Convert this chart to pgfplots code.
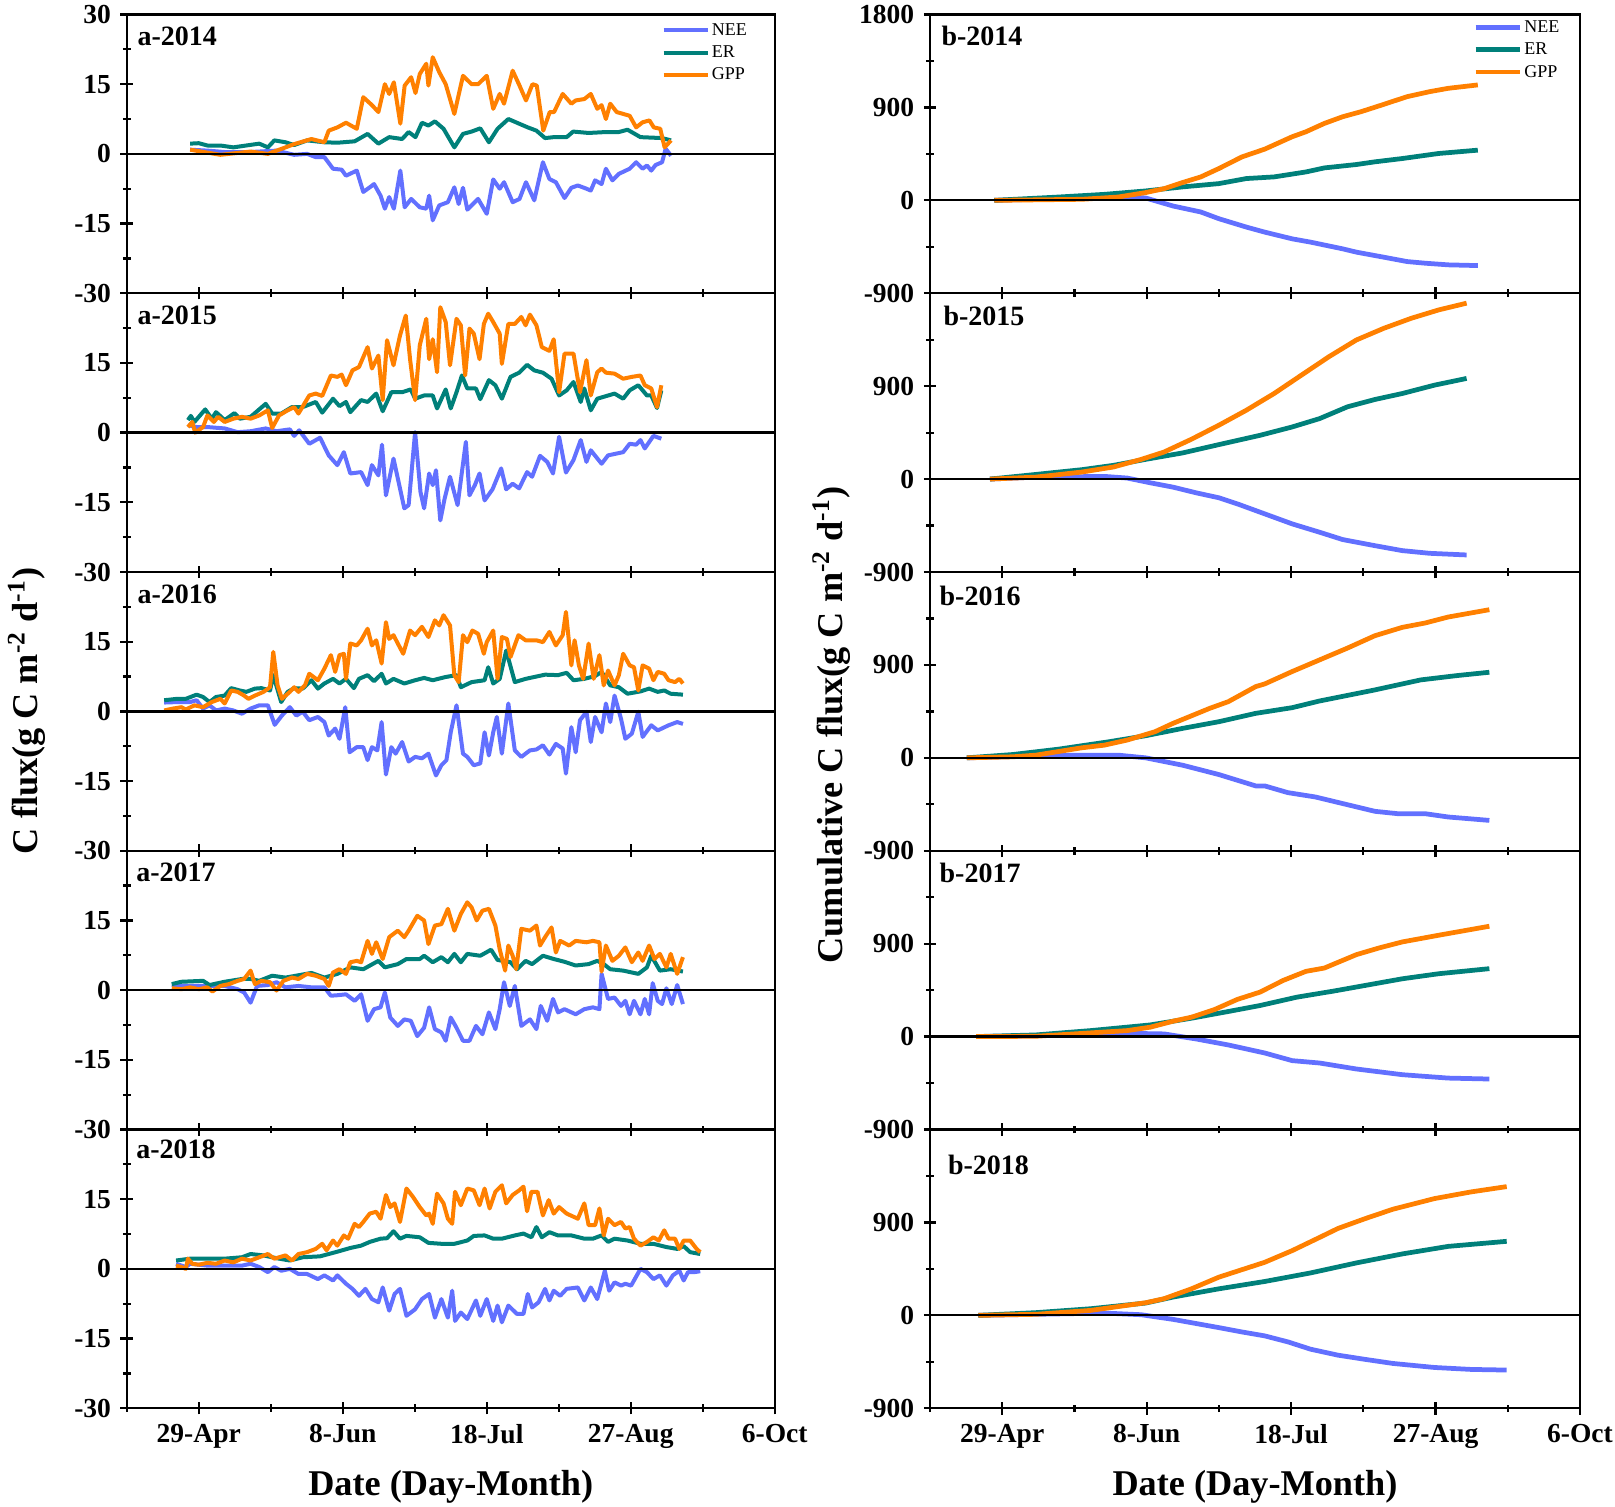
\documentclass[border=0pt]{standalone}
\usepackage{pgfplots}
\pgfplotsset{compat=1.18}
\usepackage{fontspec}
\setmainfont{Liberation Serif}
\definecolor{neec}{RGB}{98,112,255}
\definecolor{erc}{RGB}{0,128,122}
\definecolor{gppc}{RGB}{255,128,0}
\newcommand\tickfont{\fontsize{11}{13}\selectfont\bfseries}
\newcommand\panelfont{\fontsize{11.2}{13}\selectfont\bfseries}
\newcommand\labfont{\fontsize{14.5}{17}\selectfont\bfseries}
\newcommand\legfont{\fontsize{7.2}{8.5}\selectfont}
\tikzset{plabel/.style={anchor=west, font=\panelfont, inner sep=0pt}}
\pgfplotsset{
  basepanel/.style={
    scale only axis, height=111.5pt, xmin=99, xmax=279,
    xtick={119,159,199,239,279}, minor xtick={99,139,179,219,259},
    xticklabels={}, xtick pos=left, ytick pos=left,
    tick align=center, major tick length=5pt, minor tick length=3pt,
    axis line style={line width=0.9pt},
    tick style={black, line width=0.9pt},
    xticklabel style={font=\tickfont, yshift=-0.5pt},
    yticklabel style={font=\tickfont, xshift=-0.3pt},
    legend style={draw=none, fill=none, inner sep=0pt, font=\legfont,
      nodes={inner xsep=0.8pt, inner ysep=1.25pt, text height=5.2pt, text depth=1.2pt},
      row sep=0pt},
    legend cell align=left,
    legend image code/.code={\draw[##1] (0pt,0pt) -- (17.7pt,0pt);},
  },
  leftpanel/.style={basepanel, width=259.2pt, ymin=-30, ymax=30,
    ytick={-30,-15,0,15}, yticklabels={-30,-15,0,15},
    minor ytick={-22.5,-7.5,7.5,22.5},
    nee/.style={neec, line width=1.6pt, line join=round},
    er/.style={erc, line width=1.6pt, line join=round},
    gpp/.style={gppc, line width=1.6pt, line join=round}},
  lefttop/.style={leftpanel, ytick={-30,-15,0,15,30}, yticklabels={-30,-15,0,15,30}},
  rightpanel/.style={basepanel, width=260pt, ymin=-900, ymax=1800,
    ytick={-900,0,900}, yticklabels={-900,0,900},
    minor ytick={-450,450,1350},
    nee/.style={neec, line width=1.9pt, line join=round},
    er/.style={erc, line width=1.9pt, line join=round},
    gpp/.style={gppc, line width=1.9pt, line join=round}},
  righttop/.style={rightpanel, ytick={-900,0,900,1800}, yticklabels={-900,0,900,1800}},
  bottompanel/.style={xticklabels={29-Apr,8-Jun,18-Jul,27-Aug,6-Oct},
    xlabel={Date (Day-Month)},
    xlabel style={font=\labfont, at={(axis description cs:0.5,-0.282)}, anchor=center}},
  zero/.style={black, line width=0.9pt, forget plot},
}
\begin{document}
\begin{tikzpicture}
\useasboundingbox (0pt,0pt) rectangle (646pt,-602.8pt);
% ---------------- a-2014
\begin{axis}[lefttop, at={(50.7pt,-5.8pt)}, anchor=north west,
  legend entries={NEE,ER,GPP}, legend style={at={(0.961,0.985)}, anchor=north east}]
\addplot[nee] coordinates {(116.6,0.9)(121.4,0.7)(126.2,0.4)(133.4,0.4)(140.6,0.7)(145.5,-0.2)(149.1,0)(151.5,-0.7)(153.9,-0.7)(156.3,-3.2)(158.7,-3.4)(159.9,-4.7)(162.9,-3.6)(164.7,-8.2)(166.5,-7.2)(167.7,-6.5)(169.5,-9.0)(170.7,-11.8)(171.9,-9.3)(173.2,-11.8)(175.0,-3.6)(176.2,-11.5)(178.0,-9.7)(180.4,-11.5)(182.2,-11.8)(183.0,-9.0)(184.0,-14.3)(185.8,-11.1)(188.2,-10.4)(190.0,-7.2)(191.2,-10.8)(192.4,-7.3)(193.6,-12.0)(196.6,-9.7)(199.0,-12.9)(200.8,-5.5)(202.6,-7.5)(203.8,-6.1)(206.2,-10.4)(208.1,-9.7)(209.9,-6.1)(212.2,-10.0)(214.6,-1.8)(216.4,-5.4)(218.2,-6.1)(220.6,-9.5)(222.5,-7.3)(224.3,-6.8)(226.7,-7.5)(227.9,-7.9)(229.1,-5.7)(230.9,-6.5)(232.1,-3.2)(233.9,-5.7)(235.7,-4.3)(238.7,-3.2)(240.5,-1.8)(242.3,-3.2)(243.5,-2.5)(244.7,-3.6)(245.9,-2.4)(247.7,-1.8)(248.7,1.1)(250.2,-0.4)};
\addplot[er] coordinates {(116.6,2.2)(119.0,2.3)(121.4,1.8)(125.0,1.8)(128.6,1.4)(132.2,1.8)(135.8,2.2)(138.2,1.4)(140.0,2.9)(143.1,2.5)(145.5,1.9)(149.1,2.9)(153.9,2.5)(157.5,2.4)(162.3,2.7)(165.9,4.3)(168.9,2.2)(171.9,3.6)(175.5,3.2)(177.3,4.7)(179.2,3.6)(181.0,6.7)(182.8,6.1)(184.6,7.0)(187.0,5.4)(190.0,1.4)(192.4,4.3)(194.8,4.8)(197.2,5.5)(199.6,2.5)(202.0,5.4)(205.0,7.5)(208.0,6.5)(210.4,5.7)(212.8,5.0)(215.2,3.4)(217.6,3.6)(221.2,3.6)(223.0,4.8)(227.3,4.5)(232.1,4.7)(235.7,4.7)(238.1,5.2)(241.7,3.6)(247.7,3.4)(250.2,2.9)};
\addplot[gpp] coordinates {(116.6,0.9)(125.0,-0.2)(133.4,0.5)(138.2,0)(143.1,1.4)(145.5,2.1)(150.3,3.2)(153.9,2.5)(155.1,5.0)(157.5,5.7)(159.9,6.7)(162.9,5.4)(164.7,12.2)(167.1,10.5)(168.9,9.0)(170.7,15.0)(171.9,12.9)(173.2,15.4)(175.0,6.5)(176.2,14.7)(178.0,16.5)(179.2,13.1)(180.4,17.2)(182.2,19.4)(182.8,14.7)(184.0,20.8)(185.8,17.6)(187.6,15.0)(190.0,8.6)(192.4,16.8)(194.8,15.0)(196.6,15.0)(199.0,16.8)(200.8,9.7)(202.6,12.9)(203.8,10.8)(206.2,17.9)(208.1,14.7)(209.9,11.5)(211.7,15.0)(212.9,14.7)(214.7,5.0)(216.5,9.0)(217.7,9.0)(220.1,12.9)(222.5,10.8)(223.7,11.5)(226.1,11.8)(227.9,12.9)(229.7,9.7)(230.9,10.5)(232.1,7.5)(233.3,10.8)(235.1,9.0)(238.7,8.2)(240.5,5.7)(242.3,6.8)(244.2,7.2)(245.4,5.7)(247.2,5.4)(248.4,1.4)(250.2,2.9)};
\addplot[zero] coordinates {(99,0)(279,0)};
\node[plabel] at (rel axis cs:0.016,0.922) {a-2014};
\end{axis}
% ---------------- a-2015
\begin{axis}[leftpanel, at={(50.7pt,-117.3pt)}, anchor=north west]
\addplot[nee] coordinates {(116.0,1.6)(118.4,1.2)(121.4,1.2)(126.2,0.9)(129.8,0.1)(133.4,0.3)(137.6,0.9)(140.6,0.3)(144.3,0.7)(145.5,-0.7)(146.9,0.5)(149.7,-2.4)(152.7,-1.1)(155.1,-4.9)(157.5,-7.0)(159.3,-4.2)(161.1,-8.8)(164.1,-8.5)(165.9,-11.3)(167.1,-7.0)(168.9,-9.2)(169.9,-2.6)(171.0,-13.5)(173.1,-5.6)(176.1,-16.3)(177.3,-15.6)(179.1,0.1)(180.6,-12.8)(181.6,-16.3)(183.0,-8.8)(184.0,-11.3)(184.9,-8.1)(186.1,-18.9)(187.3,-14.2)(188.8,-9.5)(190.9,-15.6)(193.2,-2.0)(194.2,-13.5)(195.7,-11.3)(197.0,-8.8)(198.4,-14.6)(200.6,-12.2)(203.0,-7.7)(204.4,-12.2)(206.2,-11.0)(208.0,-12.0)(210.2,-8.5)(211.6,-9.5)(213.8,-5.0)(215.8,-6.3)(217.4,-8.8)(219.1,-0.9)(221.0,-8.6)(223.1,-5.9)(225.1,-1.6)(226.7,-6.3)(227.9,-3.8)(230.9,-6.7)(232.7,-4.9)(236.9,-4.2)(238.7,-2.4)(240.5,-2.6)(241.7,-1.6)(242.9,-3.4)(245.3,-0.7)(247.5,-1.3)};
\addplot[er] coordinates {(116.0,2.7)(116.8,3.6)(117.8,2.3)(120.8,5.0)(122.6,3.0)(123.8,4.4)(126.2,2.7)(128.9,4.2)(130.4,3.0)(133.4,3.4)(135.2,4.6)(137.6,6.2)(139.4,4.1)(141.9,4.1)(144.9,5.5)(147.9,5.5)(151.5,6.6)(153.3,4.3)(156.3,7.3)(158.1,5.7)(159.9,6.6)(161.1,4.4)(164.1,7.0)(165.9,6.6)(168.3,8.4)(170.1,4.6)(172.5,8.7)(175.5,8.7)(177.9,9.3)(179.1,7.3)(181.6,8.0)(184.0,8.0)(185.2,5.2)(187.6,9.3)(189.0,5.2)(190.6,8.7)(192.1,12.3)(193.6,9.5)(196.0,9.5)(197.2,7.2)(199.6,11.3)(201.4,10.2)(203.2,7.3)(205.6,12.0)(208.0,12.9)(210.2,14.6)(212.2,13.4)(214.6,12.9)(217.0,11.6)(219.1,8.0)(221.2,9.1)(223.1,10.9)(225.1,6.6)(226.1,9.5)(227.9,4.8)(229.7,7.3)(234.5,8.4)(236.9,7.3)(238.7,9.1)(241.1,10.2)(243.5,8.0)(244.7,8.0)(246.3,5.3)(247.5,9.1)};
\addplot[gpp] coordinates {(116.0,1.2)(117.2,2.3)(118.0,0)(120.2,1.2)(121.4,3.7)(123.2,2.3)(124.4,3.4)(126.2,2.3)(128.6,3.0)(131.0,3.4)(133.4,3.0)(135.8,3.7)(138.2,4.8)(139.4,1.0)(141.3,3.7)(143.7,4.8)(145.5,5.5)(146.7,4.1)(149.7,8.0)(151.5,8.4)(153.3,7.9)(155.7,12.3)(157.5,12.0)(158.7,12.5)(159.9,10.2)(161.7,13.4)(163.5,14.1)(165.9,18.4)(167.1,13.8)(168.9,16.6)(170.1,7.0)(171.3,19.9)(173.1,14.5)(174.9,20.9)(176.5,25.2)(177.7,15.8)(179.1,7.0)(180.4,18.8)(182.2,24.5)(183.0,15.8)(184.0,20.1)(185.2,13.0)(186.1,27.0)(187.6,23.8)(188.8,14.5)(190.6,24.5)(191.8,23.1)(193.0,12.3)(194.2,22.4)(195.4,21.3)(197.0,15.8)(198.2,23.4)(199.4,25.6)(200.8,23.8)(202.6,21.3)(203.2,14.8)(205.0,23.4)(206.8,23.4)(208.6,24.9)(209.8,23.1)(211.0,25.4)(212.8,23.1)(214.3,18.4)(216.4,17.6)(217.6,20.1)(219.1,8.7)(220.6,17.0)(223.1,17.0)(224.9,8.7)(226.7,15.6)(227.9,8.0)(229.7,13.0)(230.9,13.8)(232.1,12.9)(234.5,12.7)(236.9,11.6)(239.3,12.0)(241.7,12.3)(242.9,10.2)(244.7,9.5)(246.3,5.5)(247.5,10.2)};
\addplot[zero] coordinates {(99,0)(279,0)};
\node[plabel] at (rel axis cs:0.016,0.922) {a-2015};
\end{axis}
% ---------------- a-2016
\begin{axis}[leftpanel, at={(50.7pt,-228.8pt)}, anchor=north west]
\addplot[nee] coordinates {(109.4,1.9)(113.0,2.0)(116.6,2.0)(118.4,2.4)(120.2,0.6)(122.0,1.3)(123.8,0.2)(126.2,0.6)(128.6,0.2)(131.0,-0.5)(133.4,0.6)(135.8,1.3)(138.2,1.3)(140.1,-2.9)(142.1,-0.9)(144.3,0.9)(146.1,-0.9)(147.9,-0.1)(149.7,-1.9)(152.1,-1.2)(153.9,-2.3)(155.1,-5.2)(156.9,-3.7)(158.1,-5.9)(159.7,0.9)(160.9,-8.8)(162.9,-7.7)(164.7,-7.7)(165.9,-10.5)(167.1,-7.7)(168.6,-8.4)(169.8,-2.3)(171.0,-13.6)(172.5,-7.7)(173.7,-9.1)(175.5,-6.6)(177.3,-10.8)(179.1,-9.8)(181.0,-10.1)(182.8,-9.1)(184.9,-13.8)(186.4,-11.6)(187.8,-10.5)(189.0,-4.5)(190.6,1.3)(192.4,-9.1)(193.6,-9.8)(195.4,-11.6)(197.2,-11.2)(198.4,-4.5)(199.6,-9.5)(200.8,-4.5)(201.8,-1.2)(203.2,-9.1)(205.0,1.7)(206.8,-8.4)(208.6,-9.8)(211.0,-8.4)(212.8,-8.2)(214.6,-7.3)(216.4,-9.3)(218.2,-7.0)(220.1,-8.0)(221.0,-13.4)(222.5,-3.4)(223.7,-8.8)(224.9,-1.9)(226.7,-0.1)(227.9,-6.6)(229.1,-1.2)(230.9,-4.5)(232.1,1.7)(233.3,-2.3)(234.5,3.4)(236.3,-1.6)(237.5,-5.9)(239.3,-4.8)(241.1,-0.1)(242.3,-5.5)(244.7,-3.0)(246.5,-4.1)(249.5,-3.0)(251.9,-2.3)(253.5,-2.7)};
\addplot[er] coordinates {(109.4,2.4)(113.0,2.7)(115.4,2.7)(118.4,3.6)(120.2,3.1)(122.0,2.0)(123.8,3.1)(126.2,3.4)(128.0,5.0)(130.4,4.5)(132.2,4.2)(134.6,4.9)(136.4,5.0)(138.8,4.5)(139.7,7.8)(141.9,2.0)(143.7,4.2)(145.5,5.0)(147.9,4.9)(150.3,6.7)(152.1,4.9)(153.9,6.0)(156.3,7.0)(158.1,6.0)(159.9,7.0)(162.1,5.0)(163.5,7.0)(165.9,7.8)(167.7,6.5)(169.8,8.1)(171.0,6.0)(173.1,7.0)(176.1,6.0)(179.1,6.7)(181.6,7.2)(184.0,6.7)(187.6,7.4)(190.6,7.8)(191.8,5.2)(194.8,6.3)(198.4,6.7)(199.4,9.5)(200.8,6.0)(202.6,7.0)(204.4,13.1)(206.8,6.3)(209.8,7.0)(215.2,7.9)(218.8,7.8)(221.2,8.3)(223.1,6.7)(226.1,7.0)(229.1,7.6)(230.9,8.5)(233.3,5.6)(235.7,5.2)(238.1,3.8)(241.7,4.3)(244.1,4.9)(246.5,4.2)(248.3,4.5)(250.1,3.8)(253.5,3.6)};
\addplot[gpp] coordinates {(109.4,0.2)(111.8,0.6)(114.2,0.9)(115.4,0.4)(117.8,1.3)(120.2,0.9)(122.6,2.0)(125.0,2.7)(126.2,1.7)(128.0,4.5)(129.8,4.2)(131.6,3.4)(132.8,2.7)(134.6,3.4)(137.0,4.2)(138.8,5.2)(139.7,12.8)(140.9,5.6)(142.1,2.7)(144.3,4.2)(145.5,5.2)(146.7,4.2)(148.5,5.6)(149.7,8.1)(152.1,6.7)(153.9,9.2)(155.7,12.1)(156.9,8.5)(158.1,12.1)(159.3,12.4)(159.9,7.0)(161.1,14.6)(162.9,14.2)(164.1,15.3)(165.9,17.8)(167.1,14.2)(168.3,15.3)(169.8,10.3)(171.0,19.2)(171.9,15.6)(173.1,16.4)(174.3,14.6)(175.8,12.4)(177.7,17.4)(179.1,16.4)(181.0,18.2)(182.8,16.0)(184.6,19.6)(185.8,18.5)(187.0,20.7)(188.8,18.5)(190.0,7.8)(191.2,6.3)(192.4,16.4)(193.6,14.9)(195.0,17.4)(196.6,16.7)(198.2,12.4)(199.0,14.9)(200.8,17.4)(202.0,7.0)(203.2,16.0)(204.6,15.6)(205.6,11.7)(207.8,16.4)(209.8,15.3)(212.8,15.3)(214.6,14.9)(216.4,17.1)(218.2,14.2)(220.1,16.4)(221.0,21.4)(222.5,9.9)(223.4,15.3)(224.6,9.9)(225.8,7.0)(227.3,14.6)(228.7,7.0)(230.3,12.1)(231.5,5.6)(232.7,8.8)(234.5,5.6)(235.7,7.8)(236.9,12.4)(238.7,9.9)(239.9,9.5)(241.1,4.5)(242.3,9.9)(244.1,9.2)(245.3,6.7)(246.5,8.5)(248.3,8.1)(249.5,6.7)(251.3,6.3)(252.5,7.0)(253.5,6.0)};
\addplot[zero] coordinates {(99,0)(279,0)};
\node[plabel] at (rel axis cs:0.016,0.92) {a-2016};
\end{axis}
% ---------------- a-2017
\begin{axis}[leftpanel, at={(50.7pt,-340.3pt)}, anchor=north west]
\addplot[nee] coordinates {(111.5,1.1)(116.6,0.9)(121.4,0.9)(126.2,0.9)(129.8,0.2)(131.6,-0.5)(133.4,-2.7)(135.2,0.9)(138.2,1.1)(140.6,1.7)(143.1,0.6)(146.7,0.9)(150.3,0.6)(153.9,0.6)(155.7,-1.2)(157.5,-1.1)(159.9,-0.9)(162.3,-2.3)(164.1,-0.9)(165.9,-6.6)(167.7,-4.1)(169.5,-3.7)(170.7,-0.5)(172.2,-5.9)(174.3,-7.7)(176.1,-6.3)(177.9,-6.6)(179.7,-9.9)(181.6,-8.1)(183.0,-3.7)(184.6,-8.4)(186.4,-9.1)(187.6,-10.9)(189.0,-5.9)(190.6,-8.1)(192.4,-10.9)(194.2,-10.9)(196.0,-7.7)(197.8,-9.5)(199.6,-4.8)(201.4,-8.4)(202.6,-4.1)(203.8,1.7)(205.4,-3.4)(206.8,0.9)(208.6,-7.7)(211.0,-6.3)(212.8,-8.4)(214.0,-3.4)(215.8,-6.6)(217.4,-1.9)(218.8,-4.8)(220.6,-4.1)(223.7,-5.2)(226.1,-4.1)(228.5,-3.7)(230.3,-4.1)(230.9,3.5)(232.7,-1.9)(234.5,-1.6)(236.3,-3.4)(237.5,-2.3)(238.7,-5.2)(239.9,-2.3)(241.7,-5.2)(242.9,-1.9)(244.1,-5.2)(245.1,1.5)(246.5,-2.3)(247.7,-3.0)(248.9,0.4)(250.4,-3.0)(251.9,1.1)(253.5,-3.0)};
\addplot[er] coordinates {(111.5,1.3)(114.2,1.8)(120.2,2.0)(122.0,1.1)(126.2,1.8)(131.0,2.4)(133.4,2.4)(135.8,2.0)(139.4,3.1)(143.1,2.7)(146.7,3.2)(150.3,3.7)(153.9,2.7)(157.5,3.5)(161.1,4.9)(164.7,4.5)(168.9,6.3)(170.7,4.9)(174.3,5.6)(176.7,6.7)(180.4,6.7)(181.6,7.4)(184.0,6.0)(186.4,7.1)(188.2,6.0)(190.0,7.8)(191.8,6.0)(193.6,7.8)(197.2,7.4)(200.2,8.7)(202.0,6.5)(205.6,6.0)(207.4,4.5)(209.8,6.3)(211.6,5.6)(214.6,7.4)(217.6,6.7)(220.6,6.1)(223.7,5.3)(227.3,5.6)(229.7,6.3)(231.5,5.6)(233.3,4.5)(236.9,4.2)(241.1,3.5)(243.5,4.9)(244.7,7.4)(247.1,4.2)(250.1,4.5)(253.5,4.0)};
\addplot[gpp] coordinates {(111.5,0.4)(114.2,0.2)(116.6,0.6)(119.0,0.2)(121.4,0.6)(122.8,-0.3)(125.0,0.9)(127.4,1.3)(129.8,2.0)(131.6,2.4)(133.4,4.2)(134.6,1.3)(136.4,2.0)(138.8,1.7)(140.6,-0.1)(142.5,2.0)(144.9,2.7)(146.7,2.4)(149.1,3.5)(151.5,3.1)(153.9,2.4)(155.1,0.9)(156.3,3.8)(158.1,4.5)(159.9,3.5)(161.1,6.0)(162.9,6.3)(164.1,6.0)(165.9,10.6)(167.1,7.8)(168.3,10.3)(170.1,6.7)(171.9,11.4)(174.3,12.8)(176.1,11.4)(177.3,12.8)(179.7,16.0)(181.6,15.0)(182.8,9.9)(184.6,13.9)(186.4,14.2)(188.2,17.5)(190.0,12.8)(191.8,16.4)(193.6,18.9)(194.8,17.8)(196.2,15.0)(197.8,17.1)(199.6,17.5)(201.4,13.9)(202.6,8.8)(204.1,4.2)(205.0,9.6)(206.2,7.4)(207.2,4.5)(208.6,13.2)(211.0,12.8)(212.8,13.9)(213.8,9.6)(215.2,11.4)(217.0,13.5)(218.2,8.1)(219.4,10.6)(221.9,9.6)(223.7,10.6)(226.7,10.3)(228.5,10.6)(230.3,10.3)(230.9,4.0)(232.1,9.6)(233.9,6.3)(235.7,7.4)(237.5,9.2)(239.3,6.0)(241.1,8.1)(242.3,6.3)(244.1,9.6)(245.6,6.7)(247.1,7.8)(248.9,4.9)(250.1,7.8)(251.9,3.5)(253.5,7.1)};
\addplot[zero] coordinates {(99,0)(279,0)};
\node[plabel] at (rel axis cs:0.014,0.922) {a-2017};
\end{axis}
% ---------------- a-2018
\begin{axis}[leftpanel, bottompanel, at={(50.7pt,-451.8pt)}, anchor=north west]
\addplot[nee] coordinates {(112.7,1.1)(115.4,0.4)(116.6,1.1)(121.4,0.7)(126.2,0.7)(131.0,0.7)(133.4,1.1)(135.8,0.4)(138.2,-0.7)(140.0,0.4)(141.9,-0.4)(144.3,0)(146.7,-1.1)(149.1,-1.1)(152.1,-2.2)(153.9,-1.4)(156.3,-2.5)(157.5,-1.4)(159.9,-3.2)(161.7,-4.3)(163.5,-5.8)(165.3,-4.3)(167.1,-6.5)(168.9,-7.2)(170.1,-4.0)(171.9,-9.0)(173.4,-5.4)(174.9,-4.3)(176.7,-10.1)(179.1,-8.7)(181.0,-6.5)(183.0,-5.4)(184.6,-10.5)(186.4,-6.5)(188.2,-10.5)(189.4,-4.7)(190.2,-11.2)(191.8,-9.4)(193.6,-10.8)(196.0,-6.8)(197.2,-10.1)(199.0,-6.5)(200.8,-11.2)(202.0,-7.9)(203.2,-11.5)(205.0,-7.9)(207.4,-9.7)(209.2,-9.7)(210.4,-5.4)(211.6,-8.3)(213.4,-7.2)(215.2,-4.3)(216.4,-6.8)(217.6,-4.7)(219.4,-5.8)(221.2,-4.3)(224.3,-4.0)(226.1,-6.8)(227.9,-4.0)(229.7,-6.5)(231.8,-0.4)(233.0,-4.7)(234.5,-2.9)(236.3,-3.6)(237.5,-3.2)(239.1,-3.6)(241.7,0)(243.5,-0.7)(245.3,-2.2)(247.1,-1.4)(248.9,-3.6)(250.7,-1.4)(252.5,-0.4)(253.7,-2.5)(254.9,-0.7)(256.7,-0.7)(258.3,-0.5)};
\addplot[er] coordinates {(112.7,1.8)(116.6,2.2)(121.4,2.2)(126.2,2.2)(131.0,2.5)(133.4,3.2)(137.0,2.9)(140.6,2.3)(144.3,1.8)(147.9,2.5)(152.7,2.7)(155.1,3.2)(157.5,3.7)(161.1,4.5)(164.1,5.0)(166.5,5.8)(169.5,6.5)(171.3,6.6)(173.1,8.1)(174.9,6.5)(176.7,7.1)(180.4,6.8)(182.8,5.6)(186.4,5.4)(190.0,5.4)(193.6,6.1)(195.4,7.1)(198.4,7.2)(200.8,6.5)(203.2,6.5)(206.8,7.2)(209.2,7.6)(211.4,6.8)(212.8,9.0)(214.3,6.8)(216.4,7.9)(218.8,7.2)(222.5,7.2)(226.1,6.5)(228.5,6.5)(230.9,7.2)(232.7,5.8)(234.5,6.5)(238.1,6.1)(241.7,5.4)(245.3,5.4)(248.9,4.7)(251.9,4.3)(253.7,4.9)(255.5,3.6)(258.3,3.2)};
\addplot[gpp] coordinates {(112.7,0.7)(114.2,0.4)(115.4,0)(116.0,2.2)(117.2,1.1)(119.0,0.9)(121.4,1.3)(123.8,1.1)(126.2,1.8)(128.6,1.4)(131.0,2.2)(133.4,1.8)(135.8,2.5)(138.2,3.2)(140.0,2.2)(143.1,2.9)(144.9,1.8)(146.7,3.2)(149.1,3.6)(151.5,4.3)(153.3,5.4)(154.5,4.0)(156.3,6.1)(157.5,5.0)(159.3,7.2)(160.5,6.5)(162.3,9.7)(163.5,9.0)(164.7,10.1)(166.5,11.9)(168.3,12.3)(169.5,10.8)(171.0,15.9)(172.2,13.3)(173.4,14.1)(174.9,10.1)(176.7,17.3)(178.5,15.5)(180.4,13.3)(182.2,11.5)(183.0,11.9)(184.0,9.7)(185.2,16.2)(187.0,14.1)(188.2,10.8)(189.4,9.7)(190.2,16.6)(191.8,13.7)(193.6,17.3)(195.4,16.9)(197.0,13.7)(198.4,17.3)(199.8,13.0)(201.4,16.6)(203.2,18.0)(204.4,14.1)(206.2,15.9)(208.0,16.9)(209.2,17.7)(210.2,12.4)(211.4,16.6)(213.1,16.6)(214.6,11.5)(216.2,14.8)(217.6,11.9)(219.1,13.3)(221.2,11.9)(224.3,10.8)(226.1,14.1)(227.3,9.4)(229.1,9.4)(230.3,13.0)(231.5,7.2)(232.7,10.8)(234.5,9.4)(236.3,10.1)(237.5,8.7)(238.7,9.0)(239.9,6.5)(241.7,5.0)(243.5,5.8)(245.3,6.8)(246.8,6.1)(248.3,8.3)(249.5,6.5)(251.3,6.5)(252.5,4.3)(253.7,6.1)(255.5,6.1)(257.3,4.3)(258.3,3.6)};
\addplot[zero] coordinates {(99,0)(279,0)};
\node[plabel] at (rel axis cs:0.014,0.93) {a-2018};
\end{axis}
% ================= right column
\begin{axis}[righttop, at={(372pt,-5.8pt)}, anchor=north west,
  legend entries={NEE,ER,GPP}, legend style={at={(0.972,0.995)}, anchor=north east}]
\addplot[nee] coordinates {(116.8,0)(134.6,16)(151.1,26)(155,30)(158.7,23)(162.5,-16)(166.3,-55)(174,-113)(179,-178)(186.6,-259)(191.7,-308)(199.3,-373)(204.4,-405)(213.3,-470)(217.1,-502)(224.7,-551)(231.1,-593)(236.1,-609)(242.5,-625)(250.7,-632)};
\addplot[er] coordinates {(116.8,0)(134.6,32)(147.3,58)(158.7,91)(168.9,130)(179,162)(186.6,211)(194.3,227)(203.1,275)(208.2,314)(217.1,347)(222.2,373)(229.8,405)(239.9,454)(250.7,486)};
\addplot[gpp] coordinates {(116.8,0)(141,10)(151.1,32)(158.7,75)(163.8,113)(168.9,172)(174,227)(179,308)(185.4,421)(191.7,496)(199.3,616)(203.1,664)(208.2,745)(213.3,810)(218.4,859)(224.7,930)(231.1,1004)(237.4,1053)(242.5,1085)(250.7,1118)};
\addplot[zero] coordinates {(99,0)(279,0)};
\node[plabel] at (rel axis cs:0.017,0.922) {b-2014};
\end{axis}
\begin{axis}[rightpanel, at={(372pt,-117.3pt)}, anchor=north west]
\addplot[nee] coordinates {(115.6,0)(128.3,19)(147.3,26)(153.6,10)(160,-36)(166.3,-78)(172.7,-133)(179,-181)(184.1,-240)(191.7,-337)(199.3,-434)(206.9,-515)(213.3,-586)(222.2,-645)(229.8,-693)(237.4,-719)(247.6,-735)};
\addplot[er] coordinates {(115.6,0)(128.3,45)(141,91)(149.8,133)(158.7,191)(168.9,253)(179,334)(190.4,424)(199.3,505)(206.9,586)(214.6,700)(222.2,771)(229.8,829)(238.7,910)(247.6,975)};
\addplot[gpp] coordinates {(115.6,0)(128.3,19)(141,68)(149.8,117)(157.5,191)(163.8,262)(171.4,386)(179,522)(186.6,667)(194.3,829)(201.9,1008)(209.5,1186)(217.1,1348)(224.7,1461)(232.3,1558)(239.9,1639)(247.6,1704)};
\addplot[zero] coordinates {(99,0)(279,0)};
\node[plabel] at (rel axis cs:0.02,0.918) {b-2015};
\end{axis}
\begin{axis}[rightpanel, at={(372pt,-228.8pt)}, anchor=north west]
\addplot[nee] coordinates {(109.2,0)(128.3,19)(141,26)(151.1,26)(158.7,0)(168.9,-71)(179,-162)(189.2,-272)(191.7,-272)(198.1,-337)(205.7,-379)(214.6,-454)(222.2,-518)(228.5,-541)(236.1,-541)(242.5,-573)(253.9,-606)};
\addplot[er] coordinates {(109.2,0)(121.9,32)(134.6,84)(141,117)(148.6,156)(158.7,214)(168.9,285)(179,350)(189.2,431)(199.3,486)(206.9,551)(222.2,658)(234.9,755)(245,797)(253.9,829)};
\addplot[gpp] coordinates {(109.2,0)(121.9,10)(128.3,26)(141,97)(147.3,123)(153.6,172)(161.3,253)(166.3,334)(176.5,480)(181.6,544)(189.2,690)(191.7,716)(199.3,836)(206.9,949)(214.6,1063)(222.2,1183)(229.8,1264)(236.1,1306)(242.5,1364)(253.9,1435)};
\addplot[zero] coordinates {(99,0)(279,0)};
\node[plabel] at (rel axis cs:0.014,0.915) {b-2016};
\end{axis}
\begin{axis}[rightpanel, at={(372pt,-340.3pt)}, anchor=north west]
\addplot[nee] coordinates {(111.8,0)(141,16)(153.6,32)(163.8,26)(172.7,-23)(181.6,-81)(191.7,-159)(199.3,-233)(206.9,-256)(217.1,-314)(229.8,-369)(242.5,-402)(253.9,-411)};
\addplot[er] coordinates {(111.8,0)(128.3,16)(143.5,58)(160,113)(171.4,178)(181.6,243)(190.4,301)(200.6,382)(210.8,441)(219.6,496)(229.8,560)(239.9,609)(253.9,658)};
\addplot[gpp] coordinates {(111.8,0)(128.3,3)(143.5,36)(153.6,58)(160,91)(166.3,149)(171.4,188)(177.8,262)(184.1,360)(190.4,431)(196.8,544)(203.1,632)(208.2,664)(217.1,794)(223.4,859)(229.8,917)(239.9,982)(253.9,1069)};
\addplot[zero] coordinates {(99,0)(279,0)};
\node[plabel] at (rel axis cs:0.014,0.922) {b-2017};
\end{axis}
\begin{axis}[rightpanel, bottompanel, at={(372pt,-451.8pt)}, anchor=north west]
\addplot[nee] coordinates {(112.4,0)(147.3,22)(157.5,6)(166.3,-39)(179,-119)(185.4,-161)(191.7,-199)(198.1,-257)(204.4,-328)(212,-386)(219.6,-427)(227.2,-466)(238.7,-505)(248.9,-524)(258.7,-530)};
\addplot[er] coordinates {(112.4,0)(128.3,26)(143.5,64)(158.7,119)(166.3,177)(179,257)(191.7,328)(204.4,411)(217.1,508)(229.8,595)(242.5,668)(258.7,717)};
\addplot[gpp] coordinates {(112.4,0)(128.3,10)(143.5,48)(158.7,122)(163.8,161)(171.4,257)(179,370)(191.7,514)(199.3,627)(206.9,755)(212,842)(219.6,938)(227.2,1028)(238.7,1131)(248.9,1196)(258.7,1247)};
\addplot[zero] coordinates {(99,0)(279,0)};
\node[plabel] at (rel axis cs:0.027,0.874) {b-2018};
\end{axis}
% axis titles
\node[rotate=90, font=\labfont] at (10.7pt,-284.4pt) {C flux(g C m\textsuperscript{-2} d\textsuperscript{-1})};
\node[rotate=90, font=\labfont] at (332.5pt,-290pt) {Cumulative C flux(g C m\textsuperscript{-2} d\textsuperscript{-1})};
\end{tikzpicture}
\end{document}
